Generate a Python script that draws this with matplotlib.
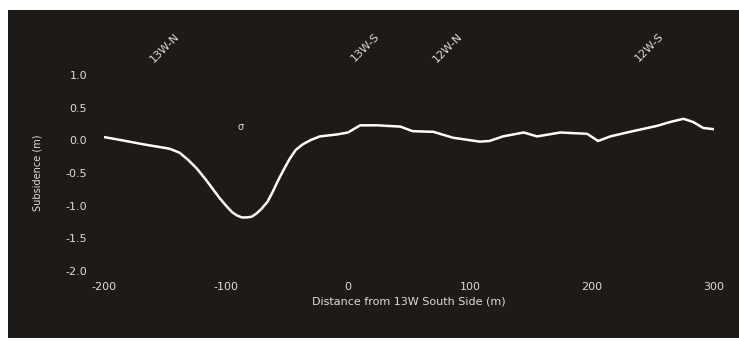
import matplotlib
matplotlib.use("Agg")
import matplotlib.pyplot as plt

# Data
distance = [-200, -185, -168, -152, -146, -138, -131, -124, -117, -111, -105, -99, -95, -91,
            -87, -83, -79, -75, -71, -66, -62, -58, -53, -48, -43, -37, -30, -23, -9, 0,
            10, 24, 43, 53, 70, 86, 108, 116, 127, 144, 155, 174, 196, 205, 215, 231,
            253, 264, 275, 283, 291, 300]
subsidence = [0.05, 0.0, -0.06, -0.11, -0.13, -0.19, -0.30, -0.43, -0.59, -0.74, -0.89,
              -1.02, -1.10, -1.15, -1.18, -1.18, -1.17, -1.12, -1.05, -0.94, -0.80, -0.64,
              -0.46, -0.29, -0.15, -0.06, 0.01, 0.06, 0.09, 0.12, 0.23, 0.23, 0.21, 0.14,
              0.13, 0.04, -0.02, -0.01, 0.06, 0.12, 0.06, 0.12, 0.10, -0.01, 0.06, 0.13,
              0.22, 0.28, 0.33, 0.28, 0.19, 0.17]
xticks = [-200, -100, 0, 100, 200, 300]
yticks = [-2.0, -1.5, -1.0, -0.5, 0.0, 0.5, 1.0]
markers = ["13W-N", "13W-S", "12W-N", "12W-S"]
marker_x = [-150, 14, 82, 247]

W, H = 739, 341
fig = plt.figure(figsize=(W / 100, H / 100), dpi=100, facecolor="white")
bg = "#1d1a18"

bgax = fig.add_axes([8 / W, 1 - 338 / H, (W - 8) / W, (338 - 10) / H], zorder=-1)
bgax.set_facecolor(bg)
bgax.set_xticks([])
bgax.set_yticks([])
for s in bgax.spines.values():
    s.set_visible(False)

ax = fig.add_axes([104 / W, 1 - 271 / H, (714 - 104) / W, (271 - 75) / H], zorder=1)
ax.set_facecolor("none")
for s in ax.spines.values():
    s.set_visible(False)

ax.plot(distance, subsidence, color="white", lw=1.8)
ax.set_xlim(-200, 300)
ax.set_ylim(-2.0, 1.0)
ax.set_xticks(xticks)
ax.set_xticklabels([str(v) for v in xticks])
ax.set_yticks(yticks)
ax.set_yticklabels([f"{v:.1f}" for v in yticks])
ax.tick_params(colors="#dddddd", labelsize=8, length=0)
ax.tick_params(axis="y", pad=12)
ax.tick_params(axis="x", pad=8)
ax.set_xlabel("Distance from 13W South Side (m)", color="#dddddd", fontsize=8, labelpad=3)
ax.set_ylabel("Subsidence (m)", color="#dddddd", fontsize=7)
ax.yaxis.set_label_coords(-0.1, 0.5)

for lab, xv in zip(markers, marker_x):
    ax.text(xv, 1.42, lab, color="#dddddd", fontsize=8, rotation=45,
            ha="center", va="center", clip_on=False)
ax.text(-88, 0.21, "σ", color="#dddddd", fontsize=7, ha="center", va="center")

fig.savefig("out.png", dpi=100, facecolor="white")
